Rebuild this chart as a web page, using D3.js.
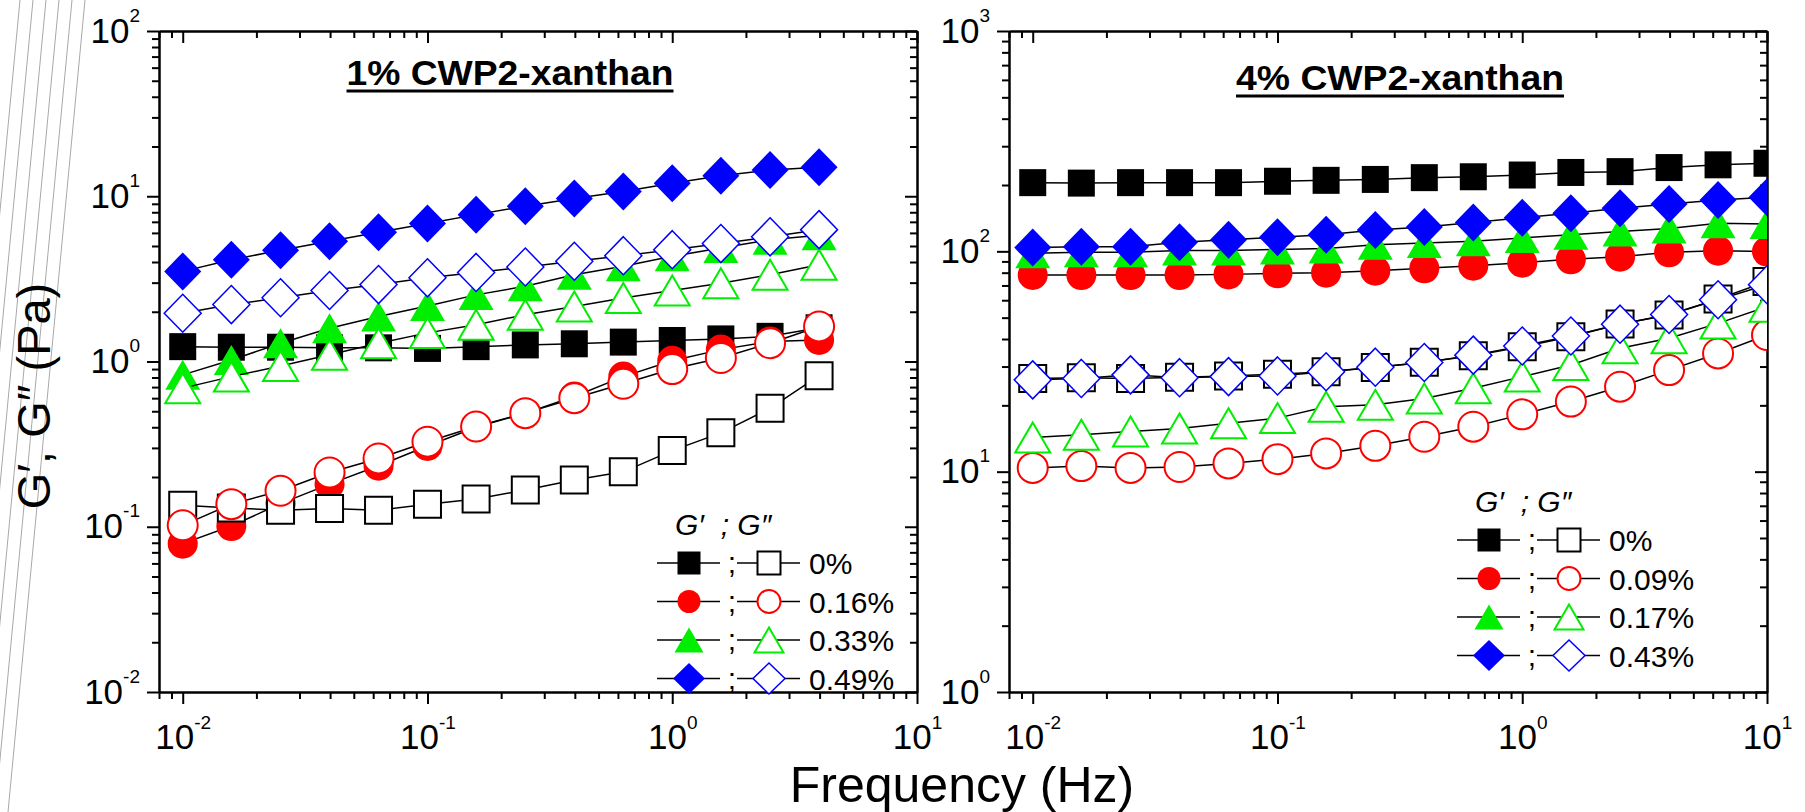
<!DOCTYPE html>
<html>
<head>
<meta charset="utf-8">
<script src="https://cdn.jsdelivr.net/npm/d3@7.9.0/dist/d3.min.js"></script>
<style>
  body { margin: 0; background: #fff; }
  svg { display: block; font-family: "Liberation Sans", Arial, sans-serif; }
</style>
</head>
<body>
<svg id="chart" width="1805" height="812"></svg>
<script>
// frequencies (Hz)
const freqA = [0.01, 0.0158, 0.0251, 0.0398, 0.0631, 0.1, 0.158, 0.251, 0.398, 0.631, 1, 1.58, 2.51, 3.98];
const freqB = [0.01, 0.0158, 0.0251, 0.0398, 0.0631, 0.1, 0.158, 0.251, 0.398, 0.631, 1, 1.58, 2.51, 3.98, 6.31, 10];

// panel A : 1% CWP2-xanthan  (G' = storage, G'' = loss, Pa)
const levelsA = ['0%', '0.16%', '0.33%', '0.49%'];
const storageA0  = [1.23, 1.22, 1.22, 1.21, 1.21, 1.20, 1.23, 1.26, 1.28, 1.31, 1.34, 1.37, 1.42, 1.60];
const storageA16 = [0.079, 0.101, 0.138, 0.181, 0.234, 0.308, 0.400, 0.487, 0.614, 0.81, 1.01, 1.18, 1.32, 1.35];
const storageA33 = [0.83, 1.02, 1.29, 1.59, 1.87, 2.17, 2.53, 2.85, 3.35, 3.77, 4.33, 4.86, 5.46, 5.8];
const storageA49 = [3.51, 4.13, 4.71, 5.34, 6.05, 6.83, 7.74, 8.70, 9.68, 10.7, 12.0, 13.3, 14.4, 15.0];
const lossA0  = [0.135, 0.130, 0.126, 0.129, 0.126, 0.137, 0.147, 0.167, 0.192, 0.215, 0.289, 0.370, 0.521, 0.82];
const lossA16 = [0.102, 0.137, 0.165, 0.213, 0.259, 0.327, 0.404, 0.487, 0.600, 0.733, 0.90, 1.05, 1.29, 1.63];
const lossA33 = [0.69, 0.81, 0.94, 1.10, 1.29, 1.49, 1.67, 1.92, 2.15, 2.42, 2.69, 2.98, 3.35, 3.85];
const lossA49 = [1.96, 2.21, 2.43, 2.69, 2.92, 3.21, 3.46, 3.73, 4.04, 4.37, 4.75, 5.17, 5.68, 6.28];

// panel B : 4% CWP2-xanthan
const levelsB = ['0%', '0.09%', '0.17%', '0.43%'];
const storageB0  = [205, 204, 205, 205, 205, 208, 210, 212, 216, 218, 222, 228, 230, 240, 247, 251];
const storageB09 = [78.1, 78, 78, 78, 78.6, 79.5, 80, 81.7, 83.7, 86.1, 88.8, 92, 94.6, 99, 100.7, 99.7];
const storageB17 = [98, 99, 99, 101, 101, 102, 103, 107, 109, 111, 115, 119, 123, 127, 134, 133];
const storageB43 = [104, 105, 105, 110, 113, 116, 119, 125, 129, 135, 142, 149, 157, 164, 171, 176];
const lossB0  = [26.5, 26.7, 26.5, 26.8, 27.2, 27.7, 28.4, 29.7, 31.4, 33.6, 36.9, 41.0, 46.8, 51.4, 60.8, 72.9];
const lossB09 = [10.4, 10.6, 10.4, 10.5, 10.9, 11.4, 12.1, 13.1, 14.4, 16.0, 18.2, 20.8, 24.3, 28.9, 34.4, 41.7];
const lossB17 = [14.3, 14.7, 15.2, 15.7, 16.6, 17.5, 19.7, 20.1, 21.5, 23.9, 27.0, 30.5, 36.3, 40.3, 47.1, 56.1];
const lossB43 = [26.1, 26.5, 27.5, 26.7, 27.0, 27.2, 28.4, 29.8, 31.3, 33.8, 37.2, 41.3, 46.7, 51.7, 60.3, 70.5];

const xMajor = [0.01, 0.1, 1, 10];
const yMajorA = [0.01, 0.1, 1, 10, 100];
const yMajorB = [1, 10, 100, 1000];

// one style per concentration level (same order in both panels)
const colors = ['#000000', '#ff0000', '#00ee00', '#0000ff'];
const shapes = ['square', 'circle', 'triangle', 'diamond'];
const markSize = { square: [27, 27], circle: [30, 30], triangle: [35, 30], diamond: [37, 38] };
const legSize = { square: [23, 23], circle: [23, 23], triangle: [29, 25], diamond: [32, 31] };

const panels = [
  {
    title: '1% CWP2-xanthan', freq: freqA, levels: levelsA,
    storage: [storageA0, storageA16, storageA33, storageA49],
    loss: [lossA0, lossA16, lossA33, lossA49],
    yDomain: [0.01, 100], yMajor: yMajorA,
    left: 159, right: 917, titleX: 510, titleY: 85, titleW: 327,
    legX: 657, legY: 563
  },
  {
    title: '4% CWP2-xanthan', freq: freqB, levels: levelsB,
    storage: [storageB0, storageB09, storageB17, storageB43],
    loss: [lossB0, lossB09, lossB17, lossB43],
    yDomain: [1, 1000], yMajor: yMajorB,
    left: 1009, right: 1767, titleX: 1400, titleY: 90, titleW: 328,
    legX: 1457, legY: 540
  }
];

const plotTop = 31, plotBottom = 692;
const svg = d3.select('#chart');

// thin grey scan lines at the left edge of the page
const edgeLines = [85, 72, 59, 46, 33, 20];
svg.selectAll('line.edge')
  .data(edgeLines)
  .join('line')
  .attr('class', 'edge')
  .attr('x1', d => d).attr('y1', 0)
  .attr('x2', d => d - 77).attr('y2', 812)
  .attr('stroke', '#a8a8a8').attr('stroke-width', 1);

function shapePath(shape, [w, h]) {
  switch (shape) {
    case 'square': return `M${-w / 2},${-h / 2}h${w}v${h}h${-w}Z`;
    case 'circle': return `M${-w / 2},0a${w / 2},${h / 2} 0 1,0 ${w},0a${w / 2},${h / 2} 0 1,0 ${-w},0Z`;
    case 'triangle': return `M0,${-h / 2}L${w / 2},${h / 2}L${-w / 2},${h / 2}Z`;
    case 'diamond': return `M0,${-h / 2}L${w / 2},0L0,${h / 2}L${-w / 2},0Z`;
  }
}

function minorTicks(lo, hi) {
  let out = [];
  for (let e = Math.floor(Math.log10(lo)); e <= Math.ceil(Math.log10(hi)); e++) {
    for (let m = 2; m <= 9; m++) {
      let v = m * Math.pow(10, e);
      if (v >= lo * 0.999 && v <= hi * 1.001) out.push(v);
    }
  }
  return out;
}

// "10" with the exponent raised
function powLabels(sel, big, small, rise) {
  sel.selectAll('.tick text').each(function(d) {
    let t = d3.select(this).attr('font-size', big);
    t.text(null);
    t.append('tspan').text('10');
    t.append('tspan').attr('font-size', small).attr('dy', -rise).text(Math.round(Math.log10(d)));
  });
}

function styleAxis(sel) {
  sel.select('.domain').attr('stroke-width', 2);
  sel.selectAll('.tick line').attr('stroke-width', 2);
  sel.attr('font-family', null).attr('fill', '#000');
}

panels.forEach((p, pi) => {
  const width = p.right - p.left;
  const height = plotBottom - plotTop;
  const g = svg.append('g').attr('transform', `translate(${p.left},${plotTop})`);

  const x = d3.scaleLog().domain([0.008, 10]).range([0, width]);
  const y = d3.scaleLog().domain(p.yDomain).range([height, 0]);

  const xMinor = minorTicks(0.008, 10);
  const yMinor = minorTicks(p.yDomain[0], p.yDomain[1]);

  // bottom (outward ticks, labels)
  g.append('g').attr('transform', `translate(0,${height})`)
    .call(d3.axisBottom(x).tickValues(xMinor).tickSize(7).tickSizeOuter(0).tickFormat(''))
    .call(styleAxis);
  g.append('g').attr('transform', `translate(0,${height})`)
    .call(d3.axisBottom(x).tickValues(xMajor).tickSize(12).tickSizeOuter(0).tickPadding(20))
    .call(styleAxis)
    .call(s => powLabels(s, 35, 19, 20));
  // top (inward ticks)
  g.append('g')
    .call(d3.axisTop(x).tickValues(xMinor).tickSize(-7).tickSizeOuter(0).tickFormat(''))
    .call(styleAxis);
  g.append('g')
    .call(d3.axisTop(x).tickValues(xMajor).tickSize(-12).tickSizeOuter(0).tickFormat(''))
    .call(styleAxis);
  // left (outward ticks, labels)
  g.append('g')
    .call(d3.axisLeft(y).tickValues(yMinor).tickSize(7).tickSizeOuter(0).tickFormat(''))
    .call(styleAxis);
  g.append('g')
    .call(d3.axisLeft(y).tickValues(p.yMajor).tickSize(12).tickSizeOuter(0).tickPadding(7))
    .call(styleAxis)
    .call(s => powLabels(s, 35, 19, 21));
  // right (inward ticks)
  g.append('g').attr('transform', `translate(${width},0)`)
    .call(d3.axisRight(y).tickValues(yMinor).tickSize(-7).tickSizeOuter(0).tickFormat(''))
    .call(styleAxis);
  g.append('g').attr('transform', `translate(${width},0)`)
    .call(d3.axisRight(y).tickValues(p.yMajor).tickSize(-12).tickSizeOuter(0).tickFormat(''))
    .call(styleAxis);

  // data
  g.append('clipPath').attr('id', `clip${pi}`)
    .append('rect').attr('width', width).attr('height', height);
  const plot = g.append('g').attr('clip-path', `url(#clip${pi})`);

  const line = d3.line().x(d => x(d[0])).y(d => y(d[1]));
  const series = [];
  p.storage.forEach((vals, i) => series.push({ vals, i, open: false }));
  p.loss.forEach((vals, i) => series.push({ vals, i, open: true }));

  series.forEach(s => {
    const pts = p.freq.map((f, k) => [f, s.vals[k]]);
    plot.append('path')
      .attr('d', line(pts))
      .attr('fill', 'none')
      .attr('stroke', '#000')
      .attr('stroke-width', 1.5);
    plot.selectAll(null)
      .data(pts)
      .join('path')
      .attr('transform', d => `translate(${x(d[0])},${y(d[1])})`)
      .attr('d', shapePath(shapes[s.i], markSize[shapes[s.i]]))
      .attr('fill', s.open ? '#fff' : colors[s.i])
      .attr('stroke', s.open ? colors[s.i] : 'none')
      .attr('stroke-width', s.i === 3 ? 1.5 : 2);
  });

  // title
  const tx = p.titleX - p.left, ty = p.titleY - plotTop;
  g.append('text')
    .attr('x', tx).attr('y', ty)
    .attr('text-anchor', 'middle')
    .attr('font-size', 35).attr('font-weight', 'bold')
    .attr('textLength', p.titleW).attr('lengthAdjust', 'spacingAndGlyphs')
    .text(p.title);
  g.append('line')
    .attr('x1', tx - p.titleW / 2).attr('x2', tx + p.titleW / 2)
    .attr('y1', ty + 6).attr('y2', ty + 6)
    .attr('stroke', '#000').attr('stroke-width', 3);

  // legend
  const leg = svg.append('g').attr('transform', `translate(${p.legX},${p.legY})`);
  leg.append('text')
    .attr('x', 18).attr('y', -28)
    .attr('font-size', 30).attr('font-style', 'italic')
    .text('G\u2032\u00a0\u00a0; G\u2033');
  p.levels.forEach((lab, i) => {
    const r = leg.append('g').attr('transform', `translate(0,${i * 38.5})`);
    r.append('line').attr('x1', 0).attr('x2', 63).attr('stroke', '#000').attr('stroke-width', 1.5);
    r.append('line').attr('x1', 80).attr('x2', 143).attr('stroke', '#000').attr('stroke-width', 1.5);
    r.append('path')
      .attr('transform', 'translate(32,0)')
      .attr('d', shapePath(shapes[i], legSize[shapes[i]]))
      .attr('fill', colors[i]);
    r.append('path')
      .attr('transform', 'translate(112,0)')
      .attr('d', shapePath(shapes[i], legSize[shapes[i]]))
      .attr('fill', '#fff').attr('stroke', colors[i]).attr('stroke-width', i === 3 ? 1.5 : 2);
    r.append('text').attr('x', 75).attr('y', 10).attr('text-anchor', 'middle')
      .attr('font-size', 30).text(';');
    r.append('text').attr('x', 152).attr('y', 11)
      .attr('font-size', 30).text(lab);
  });
});

// axis titles
svg.append('text')
  .attr('x', 962).attr('y', 802)
  .attr('text-anchor', 'middle')
  .attr('font-size', 50)
  .text('Frequency (Hz)');

svg.append('text')
  .attr('transform', 'translate(50,396) rotate(-90)')
  .attr('text-anchor', 'middle')
  .attr('font-size', 47)
  .text('G\u2032, G\u2033 (Pa)');
</script>
</body>
</html>
